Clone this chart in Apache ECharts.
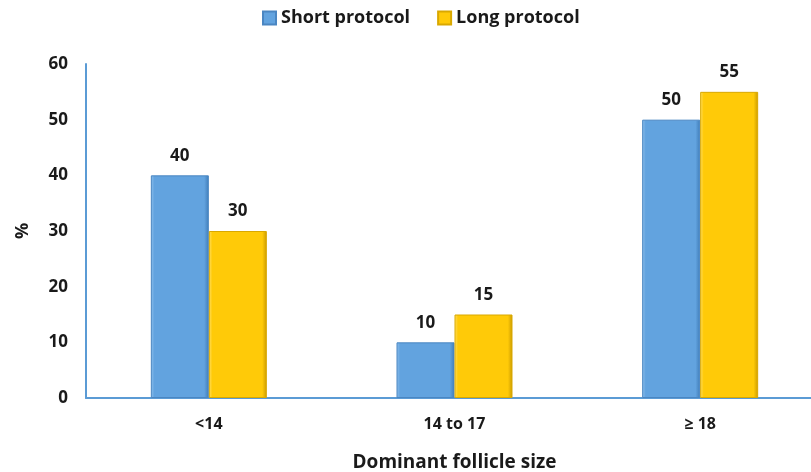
<!DOCTYPE html>
<html>
<head>
<meta charset="utf-8">
<script src="https://cdn.jsdelivr.net/npm/echarts@6/dist/echarts.min.js"></script>
<style>
  html, body { margin: 0; padding: 0; background: #fff; }
  #chart { width: 811px; height: 472px; }
</style>
</head>
<body>
<div id="chart"></div>
<script>
// Follicle size groups and share of patients (%) per protocol
const categories = ['<14', '14 to 17', '\u2265 18'];
const shortProtocol = [40, 10, 50];
const longProtocol = [30, 15, 55];
const yTicks = { min: 0, max: 60, interval: 10 };

const FONT = '"Open Sans", Lato, sans-serif';

function bevel(base, light, dark) {
  return {
    type: 'linear', x: 0, y: 0, x2: 1, y2: 0,
    colorStops: [
      { offset: 0, color: light },
      { offset: 0.06, color: base },
      { offset: 0.92, color: base },
      { offset: 1, color: dark }
    ]
  };
}

const labelStyle = {
  show: true, position: 'top', distance: 11,
  fontFamily: FONT, fontWeight: 'bold', fontSize: 17, color: '#1a1a1a'
};

const chart = echarts.init(document.getElementById('chart'));
chart.setOption({
  animation: false,
  legend: {
    top: 4, left: 257, itemGap: 27,
    itemWidth: 13, itemHeight: 13, icon: 'rect',
    textStyle: { fontFamily: FONT, fontWeight: 'bold', fontSize: 18, color: '#1a1a1a' }
  },
  grid: { left: 86, width: 737, top: 64, height: 334, outerBoundsMode: 'none' },
  xAxis: {
    type: 'category', data: categories,
    axisLine: { lineStyle: { color: '#5B9BD5', width: 2 } },
    axisTick: { show: false },
    axisLabel: { margin: 18, fontFamily: FONT, fontWeight: 'bold', fontSize: 16, color: '#1a1a1a' },
    name: 'Dominant follicle size', nameLocation: 'middle', nameGap: 55,
    nameTextStyle: { fontFamily: FONT, fontWeight: 'bold', fontSize: 19, color: '#1a1a1a' }
  },
  yAxis: {
    type: 'value', min: yTicks.min, max: yTicks.max, interval: yTicks.interval,
    axisLine: { show: true, lineStyle: { color: '#5B9BD5', width: 2 } },
    axisTick: { show: false },
    splitLine: { show: false },
    axisLabel: { margin: 18, fontFamily: FONT, fontWeight: 'bold', fontSize: 17, color: '#1a1a1a' },
    name: '%', nameLocation: 'middle', nameGap: 54,
    nameTextStyle: { fontFamily: FONT, fontWeight: 'bold', fontSize: 18, color: '#1a1a1a' }
  },
  series: [
    {
      name: 'Short protocol', type: 'bar', data: shortProtocol,
      barWidth: 58, barGap: '0%',
      itemStyle: { color: bevel('#62A3DF', '#8FC0EC', '#3F7CB8'), borderColor: '#4A86C2', borderWidth: 1 },
      label: labelStyle
    },
    {
      name: 'Long protocol', type: 'bar', data: longProtocol,
      barWidth: 58,
      itemStyle: { color: bevel('#FFCA08', '#FFE066', '#C99A00'), borderColor: '#D9A800', borderWidth: 1 },
      label: labelStyle
    }
  ]
});
</script>
</body>
</html>
